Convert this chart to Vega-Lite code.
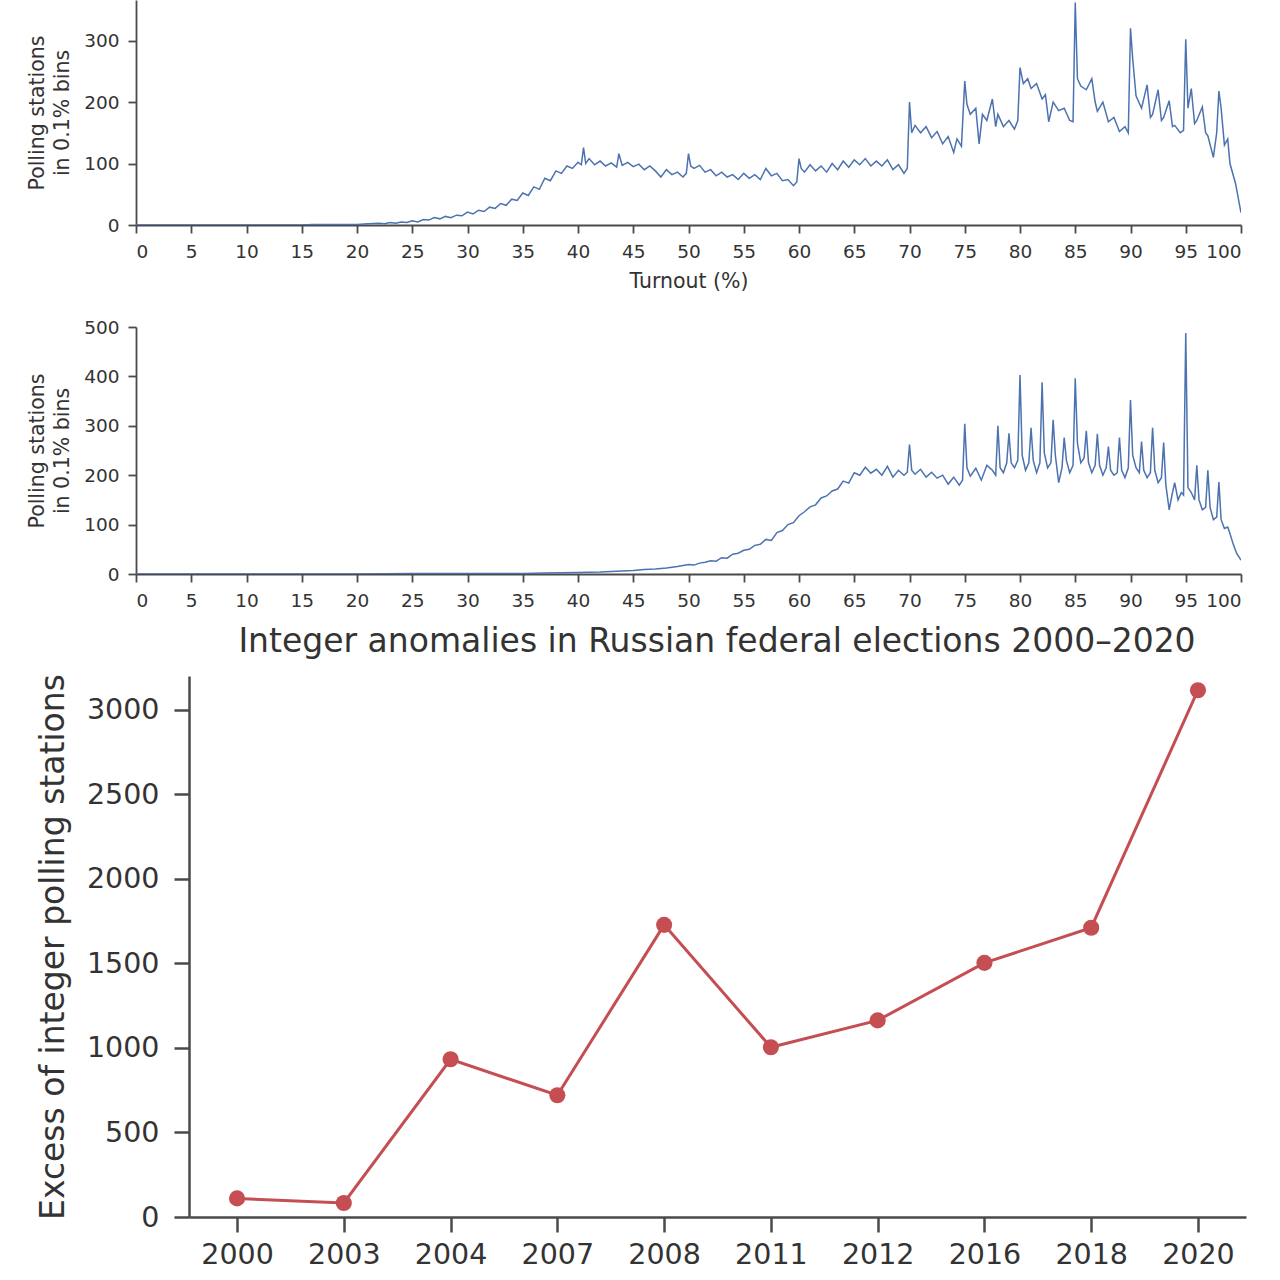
{
  "$schema": "https://vega.github.io/schema/vega-lite/v6.json",
  "padding": {"top": 0, "left": 27, "right": 20, "bottom": 0},
  "background": "white",
  "config": {
    "font": "DejaVu Sans",
    "view": {"stroke": null},
    "axis": {
      "grid": false,
      "labelFont": "DejaVu Sans",
      "titleFont": "DejaVu Sans",
      "labelColor": "#333333",
      "titleColor": "#333333",
      "titleFontWeight": "normal",
      "domainColor": "#4a4a4a",
      "tickColor": "#4a4a4a",
      "domainWidth": 1.8,
      "tickWidth": 1.8
    },
    "title": {"font": "DejaVu Sans", "fontWeight": "normal", "color": "#333333"}
  },
  "datasets": {
    "upper": [
      {"t": 0, "n": 0}, {"t": 10, "n": 0}, {"t": 15, "n": 0}, {"t": 16, "n": 1}, {"t": 18, "n": 1}, {"t": 20, "n": 1},
      {"t": 21, "n": 2}, {"t": 22, "n": 3}, {"t": 22.5, "n": 2}, {"t": 23, "n": 4}, {"t": 23.5, "n": 3}, {"t": 24, "n": 5},
      {"t": 24.5, "n": 4}, {"t": 25, "n": 7}, {"t": 25.5, "n": 5}, {"t": 26, "n": 9}, {"t": 26.5, "n": 8}, {"t": 27, "n": 12},
      {"t": 27.5, "n": 10}, {"t": 28, "n": 14}, {"t": 28.5, "n": 12}, {"t": 29, "n": 16}, {"t": 29.5, "n": 15}, {"t": 30, "n": 21},
      {"t": 30.5, "n": 18}, {"t": 31, "n": 24}, {"t": 31.5, "n": 22}, {"t": 32, "n": 29}, {"t": 32.5, "n": 27}, {"t": 33, "n": 35},
      {"t": 33.5, "n": 32}, {"t": 34, "n": 42}, {"t": 34.5, "n": 40}, {"t": 35, "n": 52}, {"t": 35.5, "n": 48}, {"t": 36, "n": 62},
      {"t": 36.5, "n": 58}, {"t": 37, "n": 76}, {"t": 37.5, "n": 72}, {"t": 38, "n": 88}, {"t": 38.5, "n": 84}, {"t": 39, "n": 96},
      {"t": 39.5, "n": 92}, {"t": 40, "n": 102}, {"t": 40.3, "n": 98}, {"t": 40.5, "n": 126}, {"t": 40.7, "n": 100}, {"t": 41, "n": 108},
      {"t": 41.5, "n": 98}, {"t": 42, "n": 104}, {"t": 42.5, "n": 96}, {"t": 43, "n": 101}, {"t": 43.5, "n": 94}, {"t": 43.7, "n": 116},
      {"t": 44, "n": 97}, {"t": 44.5, "n": 102}, {"t": 45, "n": 95}, {"t": 45.5, "n": 99}, {"t": 46, "n": 90}, {"t": 46.5, "n": 96},
      {"t": 47, "n": 88}, {"t": 47.5, "n": 78}, {"t": 48, "n": 90}, {"t": 48.5, "n": 82}, {"t": 49, "n": 86}, {"t": 49.5, "n": 78},
      {"t": 49.8, "n": 84}, {"t": 50, "n": 116}, {"t": 50.2, "n": 96}, {"t": 50.5, "n": 92}, {"t": 51, "n": 97}, {"t": 51.5, "n": 86},
      {"t": 52, "n": 90}, {"t": 52.5, "n": 80}, {"t": 53, "n": 86}, {"t": 53.5, "n": 78}, {"t": 54, "n": 82}, {"t": 54.5, "n": 74},
      {"t": 55, "n": 84}, {"t": 55.5, "n": 76}, {"t": 56, "n": 82}, {"t": 56.5, "n": 74}, {"t": 57, "n": 92}, {"t": 57.5, "n": 80},
      {"t": 58, "n": 84}, {"t": 58.5, "n": 72}, {"t": 59, "n": 74}, {"t": 59.5, "n": 64}, {"t": 59.8, "n": 70}, {"t": 60, "n": 108},
      {"t": 60.2, "n": 92}, {"t": 60.5, "n": 86}, {"t": 61, "n": 98}, {"t": 61.5, "n": 88}, {"t": 62, "n": 96}, {"t": 62.5, "n": 86},
      {"t": 63, "n": 100}, {"t": 63.5, "n": 90}, {"t": 64, "n": 104}, {"t": 64.5, "n": 94}, {"t": 65, "n": 106}, {"t": 65.5, "n": 98},
      {"t": 66, "n": 108}, {"t": 66.5, "n": 96}, {"t": 67, "n": 104}, {"t": 67.5, "n": 96}, {"t": 68, "n": 106}, {"t": 68.5, "n": 90},
      {"t": 69, "n": 98}, {"t": 69.5, "n": 84}, {"t": 69.8, "n": 92}, {"t": 70, "n": 200}, {"t": 70.2, "n": 150}, {"t": 70.5, "n": 162},
      {"t": 71, "n": 150}, {"t": 71.5, "n": 160}, {"t": 72, "n": 142}, {"t": 72.5, "n": 152}, {"t": 73, "n": 132}, {"t": 73.5, "n": 144},
      {"t": 74, "n": 118}, {"t": 74.3, "n": 140}, {"t": 74.7, "n": 128}, {"t": 75, "n": 234}, {"t": 75.2, "n": 196}, {"t": 75.5, "n": 180},
      {"t": 76, "n": 190}, {"t": 76.3, "n": 132}, {"t": 76.6, "n": 180}, {"t": 77, "n": 170}, {"t": 77.5, "n": 205}, {"t": 77.8, "n": 160},
      {"t": 78, "n": 180}, {"t": 78.5, "n": 160}, {"t": 79, "n": 170}, {"t": 79.5, "n": 156}, {"t": 79.8, "n": 170}, {"t": 80, "n": 256},
      {"t": 80.3, "n": 230}, {"t": 80.7, "n": 238}, {"t": 81, "n": 222}, {"t": 81.5, "n": 230}, {"t": 82, "n": 205}, {"t": 82.3, "n": 212},
      {"t": 82.6, "n": 168}, {"t": 83, "n": 200}, {"t": 83.5, "n": 186}, {"t": 84, "n": 190}, {"t": 84.5, "n": 170}, {"t": 84.8, "n": 168},
      {"t": 85, "n": 362}, {"t": 85.2, "n": 238}, {"t": 85.5, "n": 226}, {"t": 86, "n": 220}, {"t": 86.5, "n": 238}, {"t": 86.8, "n": 200},
      {"t": 87, "n": 185}, {"t": 87.5, "n": 200}, {"t": 88, "n": 168}, {"t": 88.5, "n": 175}, {"t": 89, "n": 152}, {"t": 89.5, "n": 160},
      {"t": 89.8, "n": 150}, {"t": 90, "n": 320}, {"t": 90.2, "n": 270}, {"t": 90.5, "n": 210}, {"t": 91, "n": 190}, {"t": 91.5, "n": 228},
      {"t": 91.8, "n": 175}, {"t": 92, "n": 180}, {"t": 92.5, "n": 220}, {"t": 92.8, "n": 170}, {"t": 93, "n": 175}, {"t": 93.5, "n": 202},
      {"t": 93.8, "n": 160}, {"t": 94, "n": 162}, {"t": 94.5, "n": 150}, {"t": 94.8, "n": 154}, {"t": 95, "n": 302}, {"t": 95.2, "n": 190},
      {"t": 95.5, "n": 222}, {"t": 95.8, "n": 165}, {"t": 96, "n": 170}, {"t": 96.5, "n": 192}, {"t": 96.8, "n": 150}, {"t": 97, "n": 145},
      {"t": 97.5, "n": 110}, {"t": 97.8, "n": 150}, {"t": 98, "n": 218}, {"t": 98.2, "n": 190}, {"t": 98.5, "n": 130}, {"t": 98.8, "n": 140},
      {"t": 99, "n": 100}, {"t": 99.5, "n": 68}, {"t": 100, "n": 20}
    ],
    "lower": [
      {"t": 0, "n": 0}, {"t": 20, "n": 0}, {"t": 25, "n": 1}, {"t": 30, "n": 1}, {"t": 35, "n": 1}, {"t": 37, "n": 2},
      {"t": 40, "n": 3}, {"t": 42, "n": 4}, {"t": 44, "n": 6}, {"t": 45, "n": 7}, {"t": 46, "n": 9}, {"t": 47, "n": 10},
      {"t": 48, "n": 12}, {"t": 49, "n": 15}, {"t": 50, "n": 19}, {"t": 50.5, "n": 18}, {"t": 51, "n": 22}, {"t": 51.5, "n": 24},
      {"t": 52, "n": 27}, {"t": 52.5, "n": 26}, {"t": 53, "n": 33}, {"t": 53.5, "n": 32}, {"t": 54, "n": 40}, {"t": 54.5, "n": 42},
      {"t": 55, "n": 48}, {"t": 55.5, "n": 50}, {"t": 56, "n": 58}, {"t": 56.5, "n": 60}, {"t": 57, "n": 70}, {"t": 57.5, "n": 68},
      {"t": 58, "n": 84}, {"t": 58.5, "n": 88}, {"t": 59, "n": 100}, {"t": 59.5, "n": 104}, {"t": 60, "n": 118}, {"t": 60.5, "n": 126},
      {"t": 61, "n": 136}, {"t": 61.5, "n": 140}, {"t": 62, "n": 154}, {"t": 62.5, "n": 158}, {"t": 63, "n": 168}, {"t": 63.5, "n": 172},
      {"t": 64, "n": 188}, {"t": 64.5, "n": 184}, {"t": 65, "n": 205}, {"t": 65.5, "n": 200}, {"t": 66, "n": 216}, {"t": 66.5, "n": 204},
      {"t": 67, "n": 212}, {"t": 67.5, "n": 200}, {"t": 68, "n": 218}, {"t": 68.5, "n": 196}, {"t": 69, "n": 210}, {"t": 69.5, "n": 200},
      {"t": 69.8, "n": 206}, {"t": 70, "n": 262}, {"t": 70.2, "n": 210}, {"t": 70.5, "n": 202}, {"t": 71, "n": 212}, {"t": 71.5, "n": 196},
      {"t": 72, "n": 206}, {"t": 72.5, "n": 194}, {"t": 73, "n": 200}, {"t": 73.5, "n": 182}, {"t": 74, "n": 196}, {"t": 74.5, "n": 180},
      {"t": 74.8, "n": 190}, {"t": 75, "n": 304}, {"t": 75.2, "n": 215}, {"t": 75.5, "n": 198}, {"t": 76, "n": 214}, {"t": 76.5, "n": 190},
      {"t": 77, "n": 220}, {"t": 77.5, "n": 210}, {"t": 77.8, "n": 200}, {"t": 78, "n": 300}, {"t": 78.2, "n": 215}, {"t": 78.5, "n": 205},
      {"t": 78.8, "n": 225}, {"t": 79, "n": 285}, {"t": 79.2, "n": 225}, {"t": 79.5, "n": 215}, {"t": 79.8, "n": 230}, {"t": 80, "n": 403},
      {"t": 80.2, "n": 240}, {"t": 80.5, "n": 210}, {"t": 80.8, "n": 225}, {"t": 81, "n": 296}, {"t": 81.2, "n": 230}, {"t": 81.5, "n": 205},
      {"t": 81.8, "n": 225}, {"t": 82, "n": 388}, {"t": 82.2, "n": 245}, {"t": 82.5, "n": 215}, {"t": 82.8, "n": 225}, {"t": 83, "n": 312},
      {"t": 83.2, "n": 240}, {"t": 83.5, "n": 185}, {"t": 83.8, "n": 215}, {"t": 84, "n": 276}, {"t": 84.2, "n": 230}, {"t": 84.5, "n": 205},
      {"t": 84.8, "n": 220}, {"t": 85, "n": 396}, {"t": 85.2, "n": 265}, {"t": 85.5, "n": 225}, {"t": 85.8, "n": 235}, {"t": 86, "n": 290},
      {"t": 86.2, "n": 225}, {"t": 86.5, "n": 205}, {"t": 86.8, "n": 220}, {"t": 87, "n": 284}, {"t": 87.2, "n": 220}, {"t": 87.5, "n": 200},
      {"t": 87.8, "n": 215}, {"t": 88, "n": 258}, {"t": 88.2, "n": 210}, {"t": 88.5, "n": 200}, {"t": 88.8, "n": 205}, {"t": 89, "n": 276},
      {"t": 89.2, "n": 210}, {"t": 89.5, "n": 195}, {"t": 89.8, "n": 215}, {"t": 90, "n": 352}, {"t": 90.2, "n": 240}, {"t": 90.5, "n": 215},
      {"t": 90.8, "n": 205}, {"t": 91, "n": 268}, {"t": 91.2, "n": 210}, {"t": 91.5, "n": 195}, {"t": 91.8, "n": 205}, {"t": 92, "n": 296},
      {"t": 92.2, "n": 210}, {"t": 92.5, "n": 185}, {"t": 92.8, "n": 195}, {"t": 93, "n": 266}, {"t": 93.2, "n": 180}, {"t": 93.5, "n": 130},
      {"t": 93.8, "n": 165}, {"t": 94, "n": 185}, {"t": 94.3, "n": 150}, {"t": 94.6, "n": 165}, {"t": 94.8, "n": 160}, {"t": 95, "n": 488},
      {"t": 95.2, "n": 175}, {"t": 95.5, "n": 165}, {"t": 95.8, "n": 150}, {"t": 96, "n": 220}, {"t": 96.2, "n": 150}, {"t": 96.5, "n": 130},
      {"t": 96.8, "n": 135}, {"t": 97, "n": 210}, {"t": 97.2, "n": 135}, {"t": 97.5, "n": 110}, {"t": 97.8, "n": 115}, {"t": 98, "n": 186},
      {"t": 98.2, "n": 110}, {"t": 98.5, "n": 92}, {"t": 98.8, "n": 95}, {"t": 99, "n": 82}, {"t": 99.3, "n": 60}, {"t": 99.6, "n": 42},
      {"t": 100, "n": 28}
    ],
    "anomalies": [
      {"year": "2000", "excess": 110},
      {"year": "2003", "excess": 83},
      {"year": "2004", "excess": 933},
      {"year": "2007", "excess": 720},
      {"year": "2008", "excess": 1728},
      {"year": "2011", "excess": 1004},
      {"year": "2012", "excess": 1163},
      {"year": "2016", "excess": 1503},
      {"year": "2018", "excess": 1711},
      {"year": "2020", "excess": 3116}
    ]
  },
  "vconcat": [
    {
      "vconcat": [
        {
          "width": 1105,
          "height": 225,
          "data": {"name": "upper"},
          "mark": {"type": "line", "color": "#4c72b0", "strokeWidth": 1.5, "clip": true},
          "encoding": {
            "x": {
              "field": "t",
              "type": "quantitative",
              "scale": {"domain": [0, 100], "nice": false},
              "axis": {
                "title": "Turnout (%)",
                "values": [0, 5, 10, 15, 20, 25, 30, 35, 40, 45, 50, 55, 60, 65, 70, 75, 80, 85, 90, 95, 100],
                "labelFontSize": 18.5,
                "titleFontSize": 20.5,
                "tickSize": 8,
                "labelPadding": 9,
                "titlePadding": 11
              }
            },
            "y": {
              "field": "n",
              "type": "quantitative",
              "scale": {"domain": [0, 366], "nice": false},
              "axis": {
                "title": ["Polling stations", "in 0.1% bins"],
                "values": [0, 100, 200, 300],
                "labelFontSize": 18.5,
                "titleFontSize": 20.5,
                "titleLineHeight": 25,
                "tickSize": 8,
                "labelPadding": 9,
                "titlePadding": 11
              }
            }
          }
        },
        {
          "width": 1105,
          "height": 247,
          "data": {"name": "lower"},
          "mark": {"type": "line", "color": "#4c72b0", "strokeWidth": 1.5, "clip": true},
          "encoding": {
            "x": {
              "field": "t",
              "type": "quantitative",
              "scale": {"domain": [0, 100], "nice": false},
              "axis": {
                "title": null,
                "values": [0, 5, 10, 15, 20, 25, 30, 35, 40, 45, 50, 55, 60, 65, 70, 75, 80, 85, 90, 95, 100],
                "labelFontSize": 18.5,
                "tickSize": 8,
                "labelPadding": 9
              }
            },
            "y": {
              "field": "n",
              "type": "quantitative",
              "scale": {"domain": [0, 500], "nice": false},
              "axis": {
                "title": ["Polling stations", "in 0.1% bins"],
                "values": [0, 100, 200, 300, 400, 500],
                "labelFontSize": 18.5,
                "titleFontSize": 20.5,
                "titleLineHeight": 25,
                "tickSize": 8,
                "labelPadding": 9,
                "titlePadding": 11
              }
            }
          }
        }
      ],
      "spacing": 26
    },
    {
      "width": 1110,
      "height": 541,
      "title": {
        "text": "Integer anomalies in Russian federal elections 2000–2020",
        "fontSize": 33,
        "offset": 15,
        "dx": 26
      },
      "data": {"name": "anomalies"},
      "encoding": {
        "x": {
          "field": "year",
          "type": "ordinal",
          "scale": {"type": "point", "padding": 0.45, "range": [53, 1110]},
          "axis": {
            "title": null,
            "labelAngle": 0,
            "labelFontSize": 28.5,
            "tickSize": 15,
            "labelPadding": 8,
            "domainWidth": 2.5,
            "tickWidth": 2.5
          }
        },
        "y": {
          "field": "excess",
          "type": "quantitative",
          "scale": {"domain": [0, 3200], "nice": false},
          "axis": {
            "title": "Excess of integer polling stations",
            "values": [0, 500, 1000, 1500, 2000, 2500, 3000],
            "format": "d",
            "offset": -53,
            "labelFontSize": 28.5,
            "titleFontSize": 33,
            "tickSize": 15,
            "labelPadding": 15,
            "titlePadding": 16,
            "domainWidth": 2.5,
            "tickWidth": 2.5
          }
        }
      },
      "layer": [
        {"mark": {"type": "line", "color": "#c44e52", "strokeWidth": 3}},
        {"mark": {"type": "point", "filled": true, "color": "#c44e52", "size": 260, "opacity": 1}}
      ]
    }
  ],
  "spacing": 15
}
